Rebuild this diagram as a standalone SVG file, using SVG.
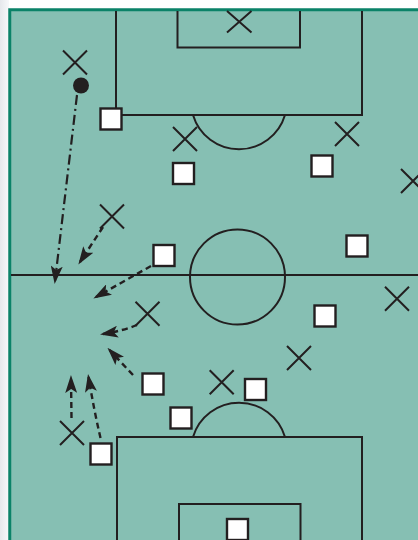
<svg xmlns="http://www.w3.org/2000/svg" width="418" height="540" viewBox="0 0 418 540">
<style>
.ln{fill:none;stroke:#231f20;stroke-width:2}
.sq{fill:#ffffff;stroke:#231f20;stroke-width:2.4}
.x{stroke:#231f20;stroke-width:2;fill:none}
.ar{fill:none;stroke:#231f20;stroke-width:2.4;stroke-dasharray:6 4}
.dd{fill:none;stroke:#231f20;stroke-width:2.2;stroke-dasharray:10 4 2 4}
</style>
<defs>
<marker id="ah" markerUnits="userSpaceOnUse" viewBox="0 0 18 12" refX="15" refY="6" markerWidth="18" markerHeight="12" orient="auto">
<path d="M0,0 L18,6 L0,12 L4,6 Z" fill="#231f20"/>
</marker>
<linearGradient id="bg" x1="0" y1="0" x2="1" y2="0">
<stop offset="0" stop-color="#e6e8ec"/><stop offset="1" stop-color="#f7f8fa"/>
</linearGradient>
</defs>
<rect x="0" y="0" width="418" height="540" fill="#ffffff"/>
<rect x="0" y="0" width="9" height="540" fill="url(#bg)"/>
<g id="field">
<rect x="9.75" y="9.75" width="420" height="540" fill="#86bfb3" stroke="#0b8268" stroke-width="3"/>
<line class="ln" x1="11" y1="275" x2="418" y2="275"/>
<circle class="ln" cx="237.5" cy="277" r="47.5"/>
<polyline class="ln" points="116,11 116,115 362,115 362,11"/>
<polyline class="ln" points="177.5,11 177.5,47.5 300,47.5 300,11"/>
<path class="ln" d="M193,115 A48,48 0 0 0 285,115"/>
<polyline class="ln" points="117,540 117,437 362,437 362,540"/>
<polyline class="ln" points="179,540 179,504 300.5,504 300.5,540"/>
<path class="ln" d="M193,437 A48,48 0 0 1 285,437"/>
</g>
<g id="connectors">
<path class="dd" d="M77,95 L55,281" marker-end="url(#ah)"/>
<path class="ar" d="M103,227 L80,262" marker-end="url(#ah)"/>
<path class="ar" d="M151,266 L96,297" marker-end="url(#ah)"/>
<path class="ar" d="M137,325 Q122,331 103,334" marker-end="url(#ah)"/>
<path class="ar" d="M133,375 L109.5,350" marker-end="url(#ah)"/>
<path class="ar" d="M71.5,418 L71,378" marker-end="url(#ah)"/>
<path class="ar" d="M100.5,438 Q94,410 88.5,377" marker-end="url(#ah)"/>
</g>
<g id="ball"><circle cx="81" cy="85.5" r="8" fill="#231f20"/></g>
<g id="crosses">
<g id="x1"><path class="x" d="M63,50.5 L87,74.5 M87,50.5 L63,74.5"/></g>
<g id="x2"><path class="x" d="M173,127 L197,151 M197,127 L173,151"/></g>
<g id="x3"><path class="x" d="M227,11 L251.5,32.5 M251.5,11 L227,32.5"/></g>
<g id="x4"><path class="x" d="M335,122 L359,146 M359,122 L335,146"/></g>
<g id="x5"><path class="x" d="M401,169 L425,193 M425,169 L401,193"/></g>
<g id="x6"><path class="x" d="M100,204.5 L124,228.5 M124,204.5 L100,228.5"/></g>
<g id="x7"><path class="x" d="M135.5,301.7 L159.5,325.7 M159.5,301.7 L135.5,325.7"/></g>
<g id="x8"><path class="x" d="M385,286.7 L409,310.7 M409,286.7 L385,310.7"/></g>
<g id="x9"><path class="x" d="M287,346 L311,370 M311,346 L287,370"/></g>
<g id="x10"><path class="x" d="M60,421 L84,445 M84,421 L60,445"/></g>
<g id="x11"><path class="x" d="M209.7,370.3 L233.7,394.3 M233.7,370.3 L209.7,394.3"/></g>
</g>
<g id="squares">
<g id="s1"><rect class="sq" x="100.5" y="108.5" width="21" height="21"/></g>
<g id="s2"><rect class="sq" x="173" y="163" width="21" height="21"/></g>
<g id="s3"><rect class="sq" x="311.5" y="155.5" width="21" height="21"/></g>
<g id="s4"><rect class="sq" x="153.5" y="245" width="21" height="21"/></g>
<g id="s5"><rect class="sq" x="346.5" y="235.5" width="21" height="21"/></g>
<g id="s6"><rect class="sq" x="314.5" y="305.5" width="21" height="21"/></g>
<g id="s7"><rect class="sq" x="142.5" y="373.5" width="21" height="21"/></g>
<g id="s8"><rect class="sq" x="170.5" y="407.5" width="21" height="21"/></g>
<g id="s9"><rect class="sq" x="90.5" y="443.5" width="21" height="21"/></g>
<g id="s10"><rect class="sq" x="245" y="379" width="21" height="21"/></g>
<g id="s11"><rect class="sq" x="227" y="519" width="21" height="21"/></g>
</g>
</svg>
